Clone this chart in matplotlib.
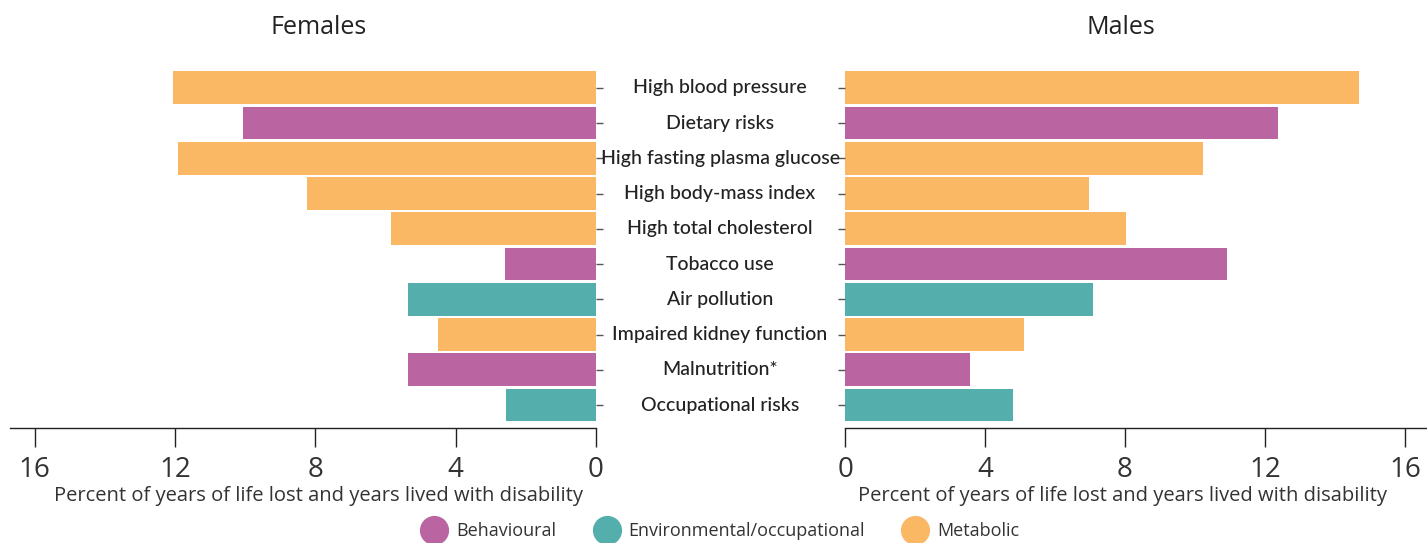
import matplotlib
matplotlib.use("Agg")
import matplotlib.pyplot as plt
from matplotlib.lines import Line2D

plt.rcParams['font.family'] = ['Open Sans', 'DejaVu Sans']

risks = ["High blood pressure", "Dietary risks", "High fasting plasma glucose",
         "High body-mass index", "High total cholesterol", "Tobacco use",
         "Air pollution", "Impaired kidney function", "Malnutrition*",
         "Occupational risks"]
group = ["Metabolic", "Behavioural", "Metabolic", "Metabolic", "Metabolic",
         "Behavioural", "Environmental/occupational", "Metabolic", "Behavioural",
         "Environmental/occupational"]
females = [12.06, 10.06, 11.92, 8.24, 5.84, 2.59, 5.36, 4.50, 5.36, 2.57]
males = [14.68, 12.37, 10.22, 6.97, 8.03, 10.92, 7.08, 5.11, 3.57, 4.80]
ticks = [0, 4, 8, 12, 16]

colors = {"Behavioural": "#BA64A2",
          "Environmental/occupational": "#54AEAC",
          "Metabolic": "#FBB864"}
text_col = "#333333"

fig = plt.figure(figsize=(14.27, 5.43), dpi=100)
ax_f = fig.add_axes([0.007, 0.2118, 0.4107, 0.657])
ax_m = fig.add_axes([0.5922, 0.2118, 0.4078, 0.657])

y = list(range(len(risks)))
bar_cols = [colors[g] for g in group]

ax_f.barh(y, females, height=0.93, color=bar_cols)
ax_m.barh(y, males, height=0.93, color=bar_cols)

ax_f.set_xlim(16.7, 0)
ax_m.set_xlim(0, 16.63)

for ax in (ax_f, ax_m):
    ax.set_ylim(9.65, -0.47)
    ax.set_xticks(ticks)
    ax.set_xticklabels([str(t) for t in ticks])
    for s in ("top", "left", "right"):
        ax.spines[s].set_visible(False)
    ax.spines["bottom"].set_color("#222222")
    ax.spines["bottom"].set_linewidth(1.0)
    ax.tick_params(axis="x", length=14, width=1.0, color="#222222",
                   labelsize=20, labelcolor=text_col, pad=6)
    ax.set_yticks(y)
    ax.set_yticklabels([])
    ax.tick_params(axis="y", length=5, width=1.0, color="#555555")
    ax.set_xlabel("Percent of years of life lost and years lived with disability",
                  fontsize=14.5, color=text_col)

ax_f.xaxis.set_label_coords(0.527, -0.162)
ax_m.xaxis.set_label_coords(0.476, -0.162)

ax_f.yaxis.tick_right()
ax_m.yaxis.tick_left()

# category labels in the gap between the two panels
trans = ax_m.get_yaxis_transform()
for i, name in enumerate(risks):
    ax_m.text(-0.2148, i, name, transform=trans, ha="center", va="center",
              fontsize=14, color="#222222", weight="medium",
              family=["Lato", "DejaVu Sans"])

fig.text(0.2235, 0.95, "Females", ha="center", va="center", fontsize=18, color="#222222")
fig.text(0.7855, 0.95, "Males", ha="center", va="center", fontsize=18, color="#222222")

handles = [Line2D([], [], marker="o", linestyle="none", markersize=20,
                  markerfacecolor=colors[k], markeredgecolor=colors[k], label=k)
           for k in colors]
fig.legend(handles=handles, loc="center", bbox_to_anchor=(0.503, 0.022), ncol=3,
           frameon=False, fontsize=13, handletextpad=0.2, columnspacing=1.8,
           labelcolor=text_col)

fig.savefig("out.png", dpi=100)
